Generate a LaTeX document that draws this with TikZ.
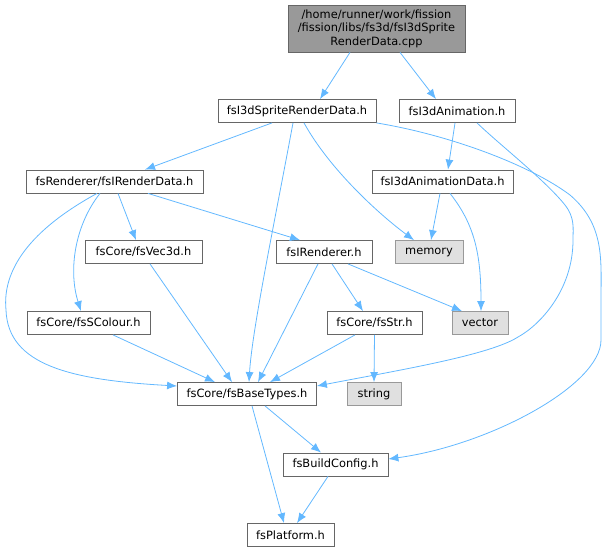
\documentclass[tikz,border=0pt]{standalone}
\usepackage{fontspec}
\setmainfont{DejaVu Sans}
\usetikzlibrary{arrows.meta}
\definecolor{edgeblue}{HTML}{63B8FF}
\definecolor{boxline}{HTML}{666666}
\definecolor{extline}{HTML}{999999}
\definecolor{extfill}{HTML}{E0E0E0}
\definecolor{rootfill}{HTML}{999999}

\begin{document}
\begin{tikzpicture}[x=1pt,y=-1pt,
  hdr/.style={draw=boxline, fill=white, line width=0.8pt, minimum height=23pt, inner sep=0pt, font=\fontsize{11.4}{13.5}\selectfont},
  sysh/.style={hdr, draw=extline, fill=extfill},
  rootf/.style={hdr, fill=rootfill, align=center, minimum height=47pt},
  dep/.style={color=edgeblue, line width=0.8pt, -{Latex[length=10pt,width=8pt]}}]
\useasboundingbox (0,0) rectangle (607,552);

\node[rootf, minimum width=177pt](root) at (376.5,28.5) {/home/runner/work/fission\\/fission/libs/fs3d/fsI3dSprite\\RenderData.cpp};
\node[hdr, minimum width=158pt](srd) at (297,111) {fsI3dSpriteRenderData.h};
\node[hdr, minimum width=116pt](anim) at (457,111) {fsI3dAnimation.h};
\node[hdr, minimum width=177pt](ird) at (114.5,181.5) {fsRenderer/fsIRenderData.h};
\node[hdr, minimum width=141pt](animdata) at (442.5,181.5) {fsI3dAnimationData.h};
\node[hdr, minimum width=117pt](vec) at (143.5,252) {fsCore/fsVec3d.h};
\node[hdr, minimum width=96pt](rend) at (324,252) {fsIRenderer.h};
\node[sysh, minimum width=68pt](mem) at (429,252) {memory};
\node[hdr, minimum width=123pt](col) at (88.5,323) {fsCore/fsSColour.h};
\node[hdr, minimum width=95pt](str) at (374.5,323) {fsCore/fsStr.h};
\node[sysh, minimum width=56pt](vect) at (480,323) {vector};
\node[hdr, minimum width=139pt](base) at (247,394) {fsCore/fsBaseTypes.h};
\node[sysh, minimum width=54pt](strg) at (374,394) {string};
\node[hdr, minimum width=105pt](cfg) at (335.5,464.5) {fsBuildConfig.h};
\node[hdr, minimum width=87pt](plat) at (290.5,535) {fsPlatform.h};

\path[dep]
	([xshift=-26.5pt]root.south) edge ([xshift=23pt]srd.north)
	([xshift=23.5pt]root.south) edge ([xshift=-21pt]anim.north)
	([xshift=-25pt]srd.south) edge ([xshift=30.5pt]ird.north)
	([xshift=-2pt]anim.south) edge ([xshift=5.5pt]animdata.north)
	([xshift=-2.5pt]animdata.south) edge ([xshift=2pt]mem.north)
	([xshift=3.5pt]ird.south) edge ([xshift=-7.5pt]vec.north)
	([xshift=33.5pt]ird.south) edge ([xshift=-24pt]rend.north)
	([xshift=6.5pt]vec.south) edge ([xshift=-15pt]base.north)
	([xshift=-6pt]rend.south) edge ([xshift=11pt]base.north)
	([xshift=8pt]rend.south) edge ([xshift=-11.5pt]str.north)
	([xshift=24pt]rend.south) edge ([xshift=-18pt]vect.north)
	([xshift=24.5pt]col.south) edge ([xshift=-32pt]base.north)
	([xshift=-19.5pt]str.south) edge ([xshift=23pt]base.north)
	(str.south) edge (strg.north)
	([xshift=18pt]base.south) edge ([xshift=-14.5pt]cfg.north)
	([xshift=5pt]base.south) edge ([xshift=-6.5pt]plat.north)
	([xshift=-7.5pt]cfg.south) edge ([xshift=6.5pt]plat.north);

% bent ones
\draw[dep] ([xshift=-4pt]srd.south) .. controls (275,220) and (252,330) .. ([xshift=2pt]base.north);
\draw[dep] ([xshift=7pt]srd.south) .. controls (330,170) and (380,215) .. ([xshift=-15pt]mem.north);
\draw[dep] (srd.south east) .. controls (450,135) and (530,165) .. (570,195) .. controls (605,225) and (601,260) .. (601,300) -- (601,340) .. controls (601,385) and (490,445) .. ([yshift=5.5pt]cfg.east);
\draw[dep] ([xshift=20pt]anim.south) .. controls (500,145) and (545,180) .. (565,205) .. controls (575,218) and (573,228) .. (573,240) .. controls (573,290) and (540,325) .. (518,337) .. controls (490,355) and (400,370) .. ([yshift=8pt]base.east);
\draw[dep] ([xshift=7.5pt]animdata.south) .. controls (475,225) and (481,255) .. ([xshift=1pt]vect.north);
\draw[dep] ([xshift=-14.5pt]ird.south) .. controls (75,225) and (68,270) .. ([xshift=-7.5pt]col.north);
\draw[dep] ([xshift=-17.5pt]ird.south) .. controls (30,230) and (2,270) .. (6,310) .. controls (8,365) and (70,380) .. ([yshift=8pt]base.west);
\end{tikzpicture}
\end{document}
